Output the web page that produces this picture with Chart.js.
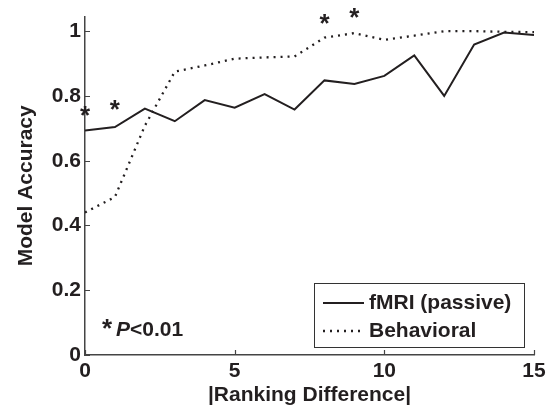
<!DOCTYPE html>
<html>
<head>
<meta charset="utf-8">
<script src="https://cdn.jsdelivr.net/npm/chart.js@4/dist/chart.umd.min.js"></script>
<style>
  html, body { margin: 0; padding: 0; background: #fff; }
  #wrap { width: 554px; height: 410px; }
</style>
</head>
<body>
<div id="wrap"><canvas id="accChart" width="554" height="410"></canvas></div>
<script>
const rankingDiff = [0, 1, 2, 3, 4, 5, 6, 7, 8, 9, 10, 11, 12, 13, 14, 15];
const fmriPassive = [0.693, 0.704, 0.761, 0.722, 0.787, 0.764, 0.806, 0.758, 0.848, 0.837, 0.862, 0.925, 0.800, 0.959, 0.996, 0.988];
const behavioral = [0.440, 0.488, 0.708, 0.875, 0.894, 0.915, 0.919, 0.922, 0.980, 0.994, 0.973, 0.986, 1.000, 1.000, 0.998, 0.997];
const starX = [0, 1, 8, 9];
const starY = [0.738, 0.756, 1.022, 1.041];
const seriesNames = ['fMRI (passive)', 'Behavioral'];

const FONT = '"Liberation Sans", Arial, Helvetica, sans-serif';
const INK = '#231f20';

const toPoints = (ys) => rankingDiff.map((x, i) => ({ x: x, y: ys[i] }));

// ticks pointing into the plot, stars, p-value note and boxed legend
const extras = {
  id: 'extras',
  afterDraw(chart) {
    const ctx = chart.ctx;
    const xs = chart.scales.x, ys = chart.scales.y;
    const area = chart.chartArea;
    ctx.save();
    ctx.strokeStyle = '#444';
    ctx.lineWidth = 1.2;
    ctx.beginPath();
    xs.ticks.forEach(t => {
      const px = Math.round(xs.getPixelForValue(t.value)) + 0.5;
      ctx.moveTo(px, area.bottom);
      ctx.lineTo(px, area.bottom - 5);
    });
    ys.ticks.forEach(t => {
      const py = Math.round(ys.getPixelForValue(t.value)) + 0.5;
      ctx.moveTo(area.left, py);
      ctx.lineTo(area.left + 5, py);
    });
    ctx.stroke();

    ctx.fillStyle = INK;
    ctx.font = 'bold 26px ' + FONT;
    ctx.textAlign = 'center';
    ctx.textBaseline = 'middle';
    starX.forEach((x, i) => {
      ctx.fillText('*', xs.getPixelForValue(x), ys.getPixelForValue(starY[i]) + 1);
    });

    // *P<0.01
    ctx.textAlign = 'left';
    ctx.textBaseline = 'alphabetic';
    ctx.font = 'bold 26px ' + FONT;
    ctx.fillText('*', 102, 337);
    ctx.font = 'italic bold 21px ' + FONT;
    ctx.fillText('P', 116, 336);
    let w = ctx.measureText('P').width;
    ctx.font = 'bold 21px ' + FONT;
    ctx.fillText('<0.01', 116 + w, 336);

    // legend box
    const bx = 314, by = 283, bw = 210, bh = 64;
    ctx.fillStyle = '#fff';
    ctx.fillRect(bx, by, bw, bh);
    ctx.strokeStyle = '#333';
    ctx.lineWidth = 1;
    ctx.strokeRect(bx + 0.5, by + 0.5, bw, bh);
    chart.data.datasets.forEach((ds, i) => {
      const ly = by + 20 + i * 28;
      ctx.strokeStyle = ds.borderColor;
      ctx.lineWidth = ds.borderWidth;
      ctx.setLineDash(ds.borderDash || []);
      ctx.beginPath();
      ctx.moveTo(bx + 9, ly);
      ctx.lineTo(bx + 50, ly);
      ctx.stroke();
      ctx.setLineDash([]);
      ctx.fillStyle = INK;
      ctx.font = 'bold 21px ' + FONT;
      ctx.textBaseline = 'middle';
      ctx.fillText(ds.label, bx + 55, ly);
    });
    ctx.restore();
  }
};

new Chart(document.getElementById('accChart'), {
  type: 'line',
  data: {
    datasets: [
      {
        label: seriesNames[0],
        data: toPoints(fmriPassive),
        borderColor: INK,
        borderWidth: 2,
        pointRadius: 0,
        tension: 0,
        fill: false
      },
      {
        label: seriesNames[1],
        data: toPoints(behavioral),
        borderColor: INK,
        borderWidth: 2.3,
        borderDash: [2, 5],
        pointRadius: 0,
        tension: 0,
        fill: false
      }
    ]
  },
  options: {
    responsive: false,
    animation: false,
    layout: { padding: { top: 12, right: 20, left: 0, bottom: 0 } },
    plugins: {
      legend: { display: false },
      tooltip: { enabled: false }
    },
    scales: {
      x: {
        type: 'linear',
        min: 0,
        max: 15,
        grid: { display: false, drawTicks: false },
        border: { display: true, color: '#444', width: 1.5 },
        ticks: {
          stepSize: 5,
          padding: 4,
          color: INK,
          font: { family: FONT, size: 21, weight: 'bold' }
        },
        title: {
          display: true,
          text: '|Ranking Difference|',
          color: INK,
          padding: { top: 0, bottom: 2 },
          font: { family: FONT, size: 21, weight: 'bold' }
        },
        afterFit(scale) { scale.height = 55; }
      },
      y: {
        min: 0,
        max: 1.045,
        grid: { display: false, drawTicks: false },
        border: { display: true, color: '#444', width: 1.5 },
        ticks: {
          stepSize: 0.2,
          includeBounds: false,
          padding: 4,
          color: INK,
          font: { family: FONT, size: 21, weight: 'bold' },
          callback: (v) => String(Math.round(v * 10) / 10)
        },
        title: {
          display: true,
          text: 'Model Accuracy',
          color: INK,
          padding: { top: 14, bottom: 0 },
          font: { family: FONT, size: 21, weight: 'bold' }
        },
        afterFit(scale) { scale.width = 85; }
      }
    }
  },
  plugins: [extras]
});
</script>
</body>
</html>
